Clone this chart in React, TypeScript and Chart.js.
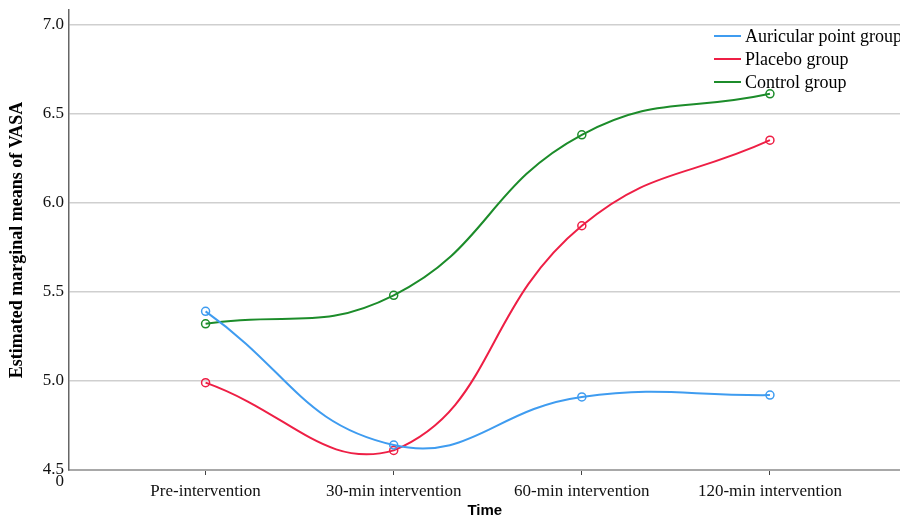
import React, { useEffect, useRef } from 'react';
import { Chart, registerables } from 'chart.js';

Chart.register(...registerables);

const categories = ['Pre-intervention', '30-min intervention', '60-min intervention', '120-min intervention'];
const auricular = [5.39, 4.64, 4.91, 4.92];
const placebo = [4.99, 4.61, 5.87, 6.35];
const control = [5.32, 5.48, 6.38, 6.61];
const seriesNames = ['Auricular point group', 'Placebo group', 'Control group'];
const seriesColors = ['#3f9cf0', '#ee1f45', '#1c8c2a'];
const yTicks = [4.5, 5.0, 5.5, 6.0, 6.5, 7.0];
const yTitle = 'Estimated marginal means of VASA';
const xTitle = 'Time';
const breakLabel = '0';

const SERIF = '"Liberation Serif", "Times New Roman", serif';
const SANS = '"Liberation Sans", Arial, sans-serif';

const extrasPlugin = {
  id: 'extras',
  afterDraw(chart: any) {
    const ctx = chart.ctx as CanvasRenderingContext2D;
    const y = chart.scales.y;
    ctx.save();
    ctx.font = `17px ${SERIF}`;
    ctx.fillStyle = '#111';
    ctx.textAlign = 'right';
    ctx.textBaseline = 'middle';
    ctx.fillText(breakLabel, 64, y.getPixelForValue(yTicks[0]) + 12);
    // legend
    ctx.font = `18px ${SERIF}`;
    chart.data.datasets.forEach((ds: any, i: number) => {
      const cy = 36 + i * 23;
      ctx.strokeStyle = ds.borderColor;
      ctx.lineWidth = 2;
      ctx.beginPath();
      ctx.moveTo(714, cy);
      ctx.lineTo(741, cy);
      ctx.stroke();
      ctx.fillStyle = '#000';
      ctx.textAlign = 'left';
      ctx.fillText(ds.label, 745, cy + 1);
    });
    ctx.restore();
  },
};

const noPad = (s: any) => {
  s.paddingTop = 0;
  s.paddingBottom = 0;
  s.paddingLeft = 0;
  s.paddingRight = 0;
};

export default function App() {
  const ref = useRef<HTMLCanvasElement | null>(null);
  useEffect(() => {
    if (!ref.current) return;
    const all = [auricular, placebo, control];
    const chart = new Chart(ref.current, {
      type: 'line',
      data: {
        datasets: all.map((vals, k) => ({
          label: seriesNames[k],
          data: vals.map((v, i) => ({ x: i, y: v })),
          borderColor: seriesColors[k],
          backgroundColor: seriesColors[k],
          borderWidth: 2,
          tension: 0.45,
          fill: false,
          pointRadius: 4,
          pointBorderWidth: 1.5,
          pointBorderColor: seriesColors[k],
          pointBackgroundColor: 'rgba(255,255,255,0)',
        })),
      },
      options: {
        animation: false,
        responsive: false,
        layout: { padding: { top: 10, right: 0, left: 0, bottom: 0 } },
        plugins: { legend: { display: false }, tooltip: { enabled: false } },
        scales: {
          x: {
            type: 'linear',
            min: -0.726,
            max: 3.694,
            afterBuildTicks: (s: any) => {
              s.ticks = categories.map((_, i) => ({ value: i }));
            },
            afterFit: (s: any) => {
              s.height = 48;
              noPad(s);
            },
            ticks: {
              autoSkip: false,
              maxRotation: 0,
              padding: 6,
              color: '#111',
              font: { family: SERIF, size: 17 },
              callback: (v: any) => categories[Number(v)] ?? '',
            },
            grid: { drawOnChartArea: false, drawTicks: true, tickLength: 5, color: '#444', lineWidth: 1 },
            border: { display: true, color: '#a8a8a8', width: 2 },
            title: {
              display: true,
              text: xTitle,
              color: '#000',
              font: { family: SANS, size: 15, weight: 'bold', lineHeight: 1 },
              padding: { top: 0, bottom: 0 },
            },
          },
          y: {
            type: 'linear',
            min: 4.5,
            max: 7.08,
            afterBuildTicks: (s: any) => {
              s.ticks = yTicks.map((v) => ({ value: v }));
            },
            afterFit: (s: any) => {
              s.width = 69;
              noPad(s);
            },
            ticks: {
              padding: 5,
              color: '#111',
              font: { family: SERIF, size: 17 },
              callback: (v: any) => Number(v).toFixed(1),
            },
            grid: { drawTicks: false, color: '#cfcfcf', lineWidth: 1.5 },
            border: { display: true, color: '#666', width: 1.5 },
            title: {
              display: true,
              text: yTitle,
              color: '#000',
              font: { family: SERIF, size: 18, weight: 'bold' },
              padding: { top: 7, bottom: 0 },
            },
          },
        },
      },
      plugins: [extrasPlugin],
    });
    return () => chart.destroy();
  }, []);
  return (
    <div style={{ position: 'fixed', left: 0, top: 0, width: 900, height: 518, overflow: 'hidden', background: '#fff' }}>
      <canvas ref={ref} width={906} height={518} style={{ width: 906, height: 518, display: 'block' }} />
    </div>
  );
}
